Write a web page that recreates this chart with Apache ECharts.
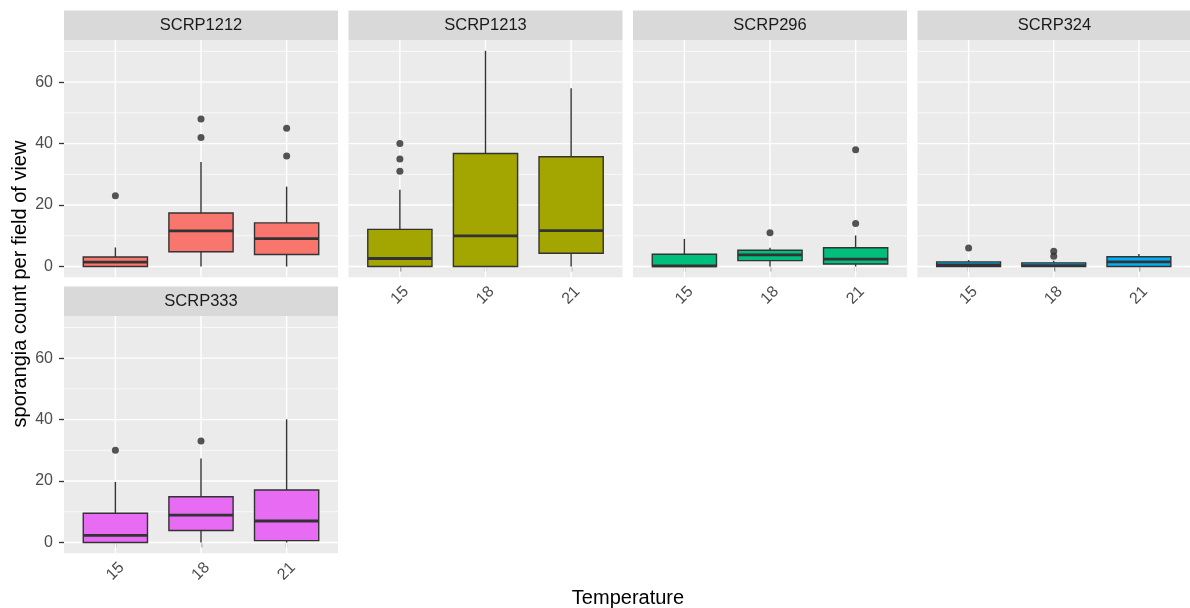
<!DOCTYPE html>
<html>
<head>
<meta charset="utf-8">
<script src="https://cdn.jsdelivr.net/npm/echarts@6/dist/echarts.min.js"></script>
<style>html,body{margin:0;padding:0;background:#fff;}#c{width:1190px;height:608px;}</style>
</head>
<body>
<div id="c"></div>
<script>
// ---------------- data ----------------
const temps = ['15', '18', '21'];
const panels = ['SCRP1212', 'SCRP1213', 'SCRP296', 'SCRP324', 'SCRP333'];
const colors = ['#F8766D', '#A3A500', '#00BF7D', '#00B0F6', '#E76BF3'];
// [lower whisker, Q1, median, Q3, upper whisker] for 15, 18, 21
const scrp1212 = [[0, 0, 1.4, 3.1, 6.2], [0, 4.8, 11.6, 17.4, 34], [0, 3.9, 9.1, 14.2, 26]];
const scrp1213 = [[0, 0, 2.6, 12.1, 25], [0, 0, 10, 36.8, 70.2], [0, 4.3, 11.7, 35.7, 58]];
const scrp296  = [[0, 0, 0.2, 4, 9], [0, 1.9, 3.8, 5.3, 6.1], [0, 0.8, 2.4, 6.1, 10.1]];
const scrp324  = [[0, 0, 0.5, 1.5, 2.1], [0, 0, 0.3, 1.2, 1.9], [0, 0, 1.5, 3.2, 4.1]];
const scrp333  = [[0, 0, 2.3, 9.5, 19.7], [0, 3.9, 8.9, 14.9, 27.3], [0, 0.6, 7, 17.1, 40.1]];
// outliers per temperature
const out1212 = [[23], [48, 42], [45, 36]];
const out1213 = [[40, 35, 31], [], []];
const out296  = [[], [11], [38, 14]];
const out324  = [[6], [5, 3.3], []];
const out333  = [[30], [33], []];
const yTicks = [0, 20, 40, 60];
const yMinor = [10, 30, 50, 70];

const stats = [scrp1212, scrp1213, scrp296, scrp324, scrp333];
const outs = [out1212, out1213, out296, out324, out333];

// ---------------- layout ----------------
const lefts = [64, 348.5, 633, 917.5, 64];
const tops = [40, 40, 40, 40, 316];
const W = 274, H = 237.3, STRIP = 29.5;
const FONT = 'Liberation Sans, Arial, sans-serif';

const grids = [], xAxes = [], yAxes = [], series = [], graphics = [];

panels.forEach((name, i) => {
  grids.push({left: lefts[i], top: tops[i], width: W, height: H, show: true,
    backgroundColor: '#EBEBEB', borderWidth: 0, containLabel: false});
  const showX = i !== 0;
  const showY = i === 0 || i === 4;
  xAxes.push({type: 'value', gridIndex: i, min: 0.4, max: 3.6,
    axisLine: {show: false}, splitLine: {show: false},
    axisTick: {show: showX, customValues: [1, 2, 3], length: 5, lineStyle: {color: '#333333', width: 1.3}},
    axisLabel: {show: showX, customValues: [1, 2, 3], formatter: v => temps[Math.round(v) - 1],
      rotate: 45, align: 'center', verticalAlign: 'middle', margin: 18,
      color: '#4D4D4D', fontSize: 16, fontFamily: FONT}
  });
  yAxes.push({type: 'value', gridIndex: i, min: -3.51, max: 73.71,
    axisLine: {show: false}, splitLine: {show: false},
    axisTick: {show: showY, customValues: yTicks, length: 5, lineStyle: {color: '#333333', width: 1.3}},
    axisLabel: {show: showY, customValues: yTicks, margin: 11, color: '#4D4D4D', fontSize: 16, fontFamily: FONT}
  });
  // grid lines
  const gl = (vals, vertical, width) => ({
    type: 'custom', xAxisIndex: i, yAxisIndex: i, silent: true, z: 1, clip: false,
    data: vals.map(v => vertical ? [v, 0] : [1, v]),
    encode: {x: 0, y: 1},
    renderItem: (params, api) => {
      const cs = params.coordSys;
      const p = api.coord([api.value(0), api.value(1)]);
      const shape = vertical
        ? {x1: p[0], y1: cs.y, x2: p[0], y2: cs.y + cs.height}
        : {x1: cs.x, y1: p[1], x2: cs.x + cs.width, y2: p[1]};
      return {type: 'line', shape: shape, style: {stroke: '#FFFFFF', lineWidth: width}};
    }
  });
  series.push(gl(yMinor, false, 0.7));
  series.push(gl(yTicks, false, 1.4));
  series.push(gl([1, 2, 3], true, 1.4));
  // boxes
  const color = colors[i];
  series.push({
    type: 'custom', xAxisIndex: i, yAxisIndex: i, silent: true, z: 3, clip: false,
    data: stats[i].map((s, k) => [k + 1].concat(s)),
    encode: {x: 0, y: [1, 2, 3, 4, 5]},
    renderItem: (params, api) => {
      const x = api.value(0);
      const pLo = api.coord([x, api.value(1)]);
      const pQ1 = api.coord([x, api.value(2)]);
      const pMd = api.coord([x, api.value(3)]);
      const pQ3 = api.coord([x, api.value(4)]);
      const pHi = api.coord([x, api.value(5)]);
      const hw = api.size([0.75, 0])[0] / 2;
      const ls = {stroke: '#333333', lineWidth: 1.4};
      return {type: 'group', children: [
        {type: 'line', shape: {x1: pQ3[0], y1: pQ3[1], x2: pHi[0], y2: pHi[1]}, style: ls},
        {type: 'line', shape: {x1: pQ1[0], y1: pQ1[1], x2: pLo[0], y2: pLo[1]}, style: ls},
        {type: 'rect', shape: {x: pQ1[0] - hw, y: pQ3[1], width: 2 * hw, height: pQ1[1] - pQ3[1]},
          style: {fill: color, stroke: '#333333', lineWidth: 1.4}},
        {type: 'line', shape: {x1: pMd[0] - hw, y1: pMd[1], x2: pMd[0] + hw, y2: pMd[1]},
          style: {stroke: '#333333', lineWidth: 2.8}}
      ]};
    }
  });
  // outliers
  const pts = [];
  outs[i].forEach((arr, k) => arr.forEach(v => pts.push([k + 1, v])));
  series.push({type: 'scatter', xAxisIndex: i, yAxisIndex: i, silent: true, z: 4,
    symbol: 'circle', symbolSize: 7, itemStyle: {color: '#2B2B2B'}, data: pts});
  // strip
  graphics.push({type: 'rect', silent: true, shape: {x: lefts[i], y: tops[i] - STRIP, width: W, height: STRIP},
    style: {fill: '#D9D9D9'}});
  graphics.push({type: 'text', silent: true, x: lefts[i] + W / 2, y: tops[i] - STRIP / 2,
    style: {text: name, fill: '#1A1A1A', font: '16.5px ' + FONT, align: 'center', verticalAlign: 'middle'}});
});

graphics.push({type: 'text', silent: true, x: 628, y: 598,
  style: {text: 'Temperature', fill: '#000000', font: '20px ' + FONT, align: 'center', verticalAlign: 'middle'}});
graphics.push({type: 'text', silent: true, x: 20, y: 284, rotation: Math.PI / 2,
  style: {text: 'sporangia count per field of view', fill: '#000000', font: '20px ' + FONT, align: 'center', verticalAlign: 'middle'}});

const chart = echarts.init(document.getElementById('c'), null, {renderer: 'canvas'});
chart.setOption({
  animation: false,
  backgroundColor: '#FFFFFF',
  grid: grids, xAxis: xAxes, yAxis: yAxes, series: series, graphic: graphics
});
</script>
</body>
</html>
